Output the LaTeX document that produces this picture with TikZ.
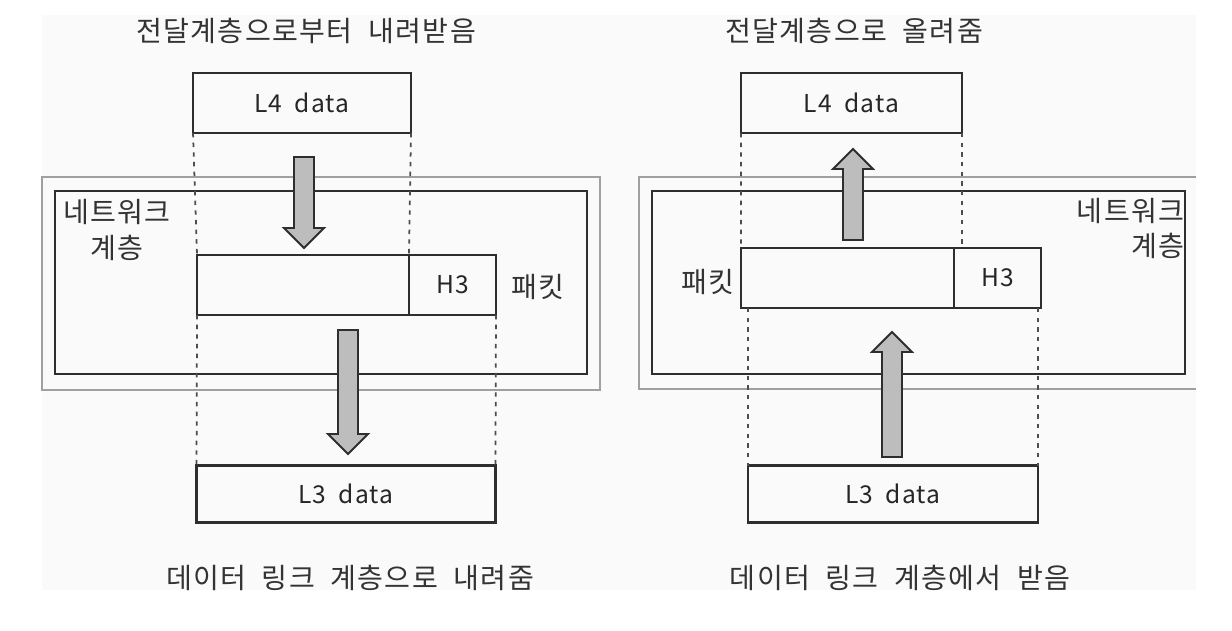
\documentclass[tikz,border=0pt]{standalone}
\usepackage{fontspec}
\setmainfont{Noto Sans CJK KR}
\newfontfamily\widekr[LetterSpace=5]{Noto Sans CJK KR}
\usetikzlibrary{positioning, calc}
\definecolor{LineDark}{HTML}{2E2E2E}
\definecolor{LineLight}{HTML}{A0A0A0}
\definecolor{ArrowFill}{HTML}{BDBDBD}
\tikzset{
  databox/.style={draw=LineDark, line width=1.2pt, minimum height=1.2cm,
    inner sep=0pt, outer sep=0pt, font=\widekr\fontsize{14}{16}\selectfont, text=black!85},
  layerbox/.style={draw=LineDark, line width=1.3pt},
  shellbox/.style={draw=LineLight, line width=1pt},
  guide/.style={draw=LineDark!85, line width=1pt, dash pattern=on 2.5pt off 3pt},
  fatarr/.style={draw=LineDark, line width=1.1pt, fill=ArrowFill, line join=miter},
  caption/.style={font=\widekr\fontsize{16}{19}\selectfont, text=black!80},
  sidelabel/.style={font=\widekr\fontsize{16}{20}\selectfont, text=black!80, inner sep=0pt},
}
% block arrow from #1 to tip #2 (vertical)
\newcommand{\fatarrow}[2]{%
  \path ($(#2)!0.4cm!(#1)$) coordinate (hb);
  \draw[fatarr] ($(#1)+(-10,0)$) -- ($(hb)+(-10,0)$) -- ($(hb)+(-20,0)$) -- (#2)
    -- ($(hb)+(20,0)$) -- ($(hb)+(10,0)$) -- ($(#1)+(10,0)$) -- cycle;}

\begin{document}
\begin{tikzpicture}[x=0.02cm, y=-0.02cm]
  \useasboundingbox (0,0) rectangle (1232,630);
  \fill[black!2] (42,15) rectangle (1196,590);

  % left: sending down
  \node[caption] (topL) at (306,31) {전달계층으로부터 \ 내려받음};
  \draw[shellbox] (42,177) rectangle (600,390);
  \draw[layerbox] (55,191) rectangle (587,374);
  \node[sidelabel, align=center] (netL) at (117,230) {네트워크\\계층};
  \node[databox, minimum width=4.36cm] (l4L) at (302,103) {L4\hspace{0.5em}data};
  \node[databox, minimum width=4.24cm] (pktL) at (303,285) {};
  \node[databox, minimum width=1.74cm, anchor=west] (h3L) at (pktL.east) {H3};
  \node[sidelabel] (pkL) at (538,287) {패킷};
  \node[databox, minimum width=5.98cm, minimum height=1.14cm] (l3L) at (346,494) {L3\hspace{0.5em}data};
  \node[caption] (botL) at (350,578) {데이터 \ 링크 \ 계층으로 \ 내려줌};
  \draw[guide] (l4L.south west) -- (pktL.north west);
  \draw[guide] (l4L.south east) -- (h3L.north west);
  \draw[guide] (pktL.south west) -- (l3L.north west);
  \draw[guide] (h3L.south east) -- (l3L.north east);
  \coordinate (a1s) at (304,157); \coordinate (a1t) at (304,248);
  \coordinate (a2s) at (348,330); \coordinate (a2t) at (348,454);
  \fatarrow{a1s}{a1t}
  \fatarrow{a2s}{a2t}

  % right: passing up
  \node[caption] (topR) at (854,31) {전달계층으로 \ 올려줌};
  \draw[shellbox] (1196,177) -- (639,177) -- (639,389) -- (1196,389);
  \draw[layerbox] (652,191) rectangle (1185,374);
  \node[sidelabel, align=right, anchor=north east] (netR) at (1185,198) {네트워크\\계층};
  \node[databox, minimum width=4.42cm] (l4R) at (851.5,103) {L4\hspace{0.5em}data};
  \node[databox, minimum width=4.26cm] (pktR) at (847.5,278) {};
  \node[databox, minimum width=1.74cm, anchor=west] (h3R) at (pktR.east) {H3};
  \node[sidelabel] (pkR) at (708,282) {패킷};
  \node[databox, minimum width=5.8cm, minimum height=1.14cm] (l3R) at (893,494) {L3\hspace{0.5em}data};
  \node[caption] (botR) at (900,578) {데이터 \ 링크 \ 계층에서 \ 받음};
  \draw[guide] (l4R.south west) -- (pktR.north west);
  \draw[guide] (l4R.south east) -- (l4R.south east |- h3R.north);
  \draw[guide] (l3R.north west |- pktR.south) -- (l3R.north west);
  \draw[guide] (l3R.north east |- h3R.south) -- (l3R.north east);
  \coordinate (b1s) at (853,240); \coordinate (b1t) at (853,149);
  \coordinate (b2s) at (892,457); \coordinate (b2t) at (892,332);
  \fatarrow{b1s}{b1t}
  \fatarrow{b2s}{b2t}
\end{tikzpicture}
\end{document}
